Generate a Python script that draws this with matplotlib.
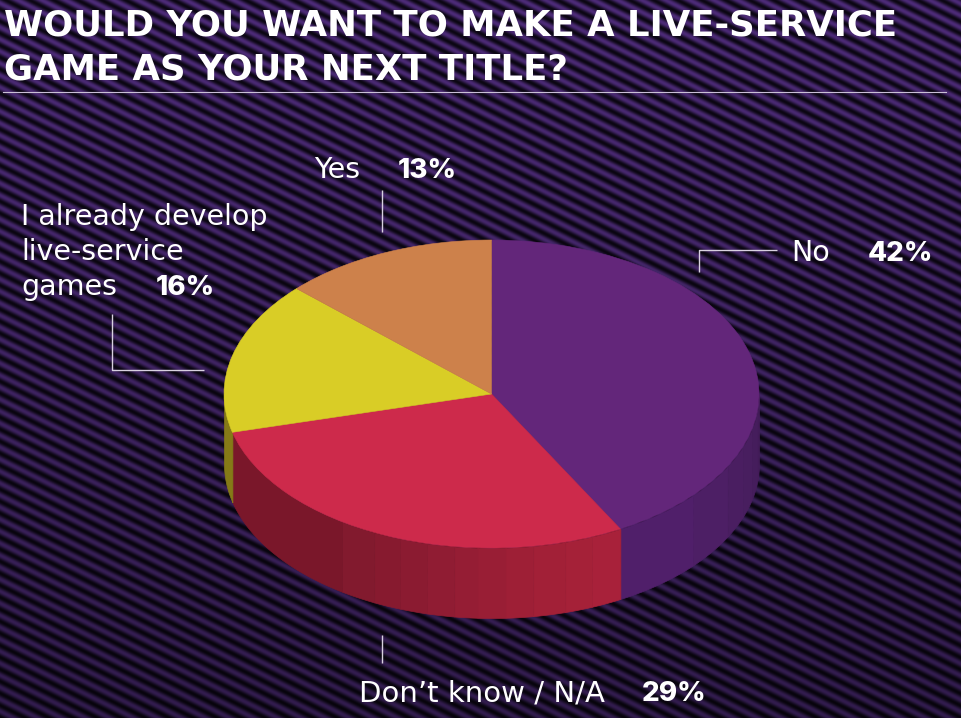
import numpy as np
from matplotlib import pyplot as plt
from matplotlib.colors import LinearSegmentedColormap

W, H = 962, 718

shares = [42, 29, 16, 13]
top_colors = ['#63267a', '#cd2a4b', '#d9cd26', '#cd814b']

title_lines = ['WOULD YOU WANT TO MAKE A LIVE-SERVICE', 'GAME AS YOUR NEXT TITLE?']

# wall shading per slice, with the clockwise angle where each shade stops
wall_shades = [
    ['#501f6a', '#4d1f65', '#4a1e61', '#481e5f', '#451d5c', '#431c59'],
    ['#a8213a', '#a52138', '#a22037', '#9e1f36', '#991e35', '#951d34',
     '#901c33', '#8b1b31', '#871a2f', '#821a2e', '#7a172a'],
    ['#857a17'],
]
wall_stops = [
    [131, 118, 110, 103, 96, 90],
    [158, 164, 171, 177, 183, 188, 194, 200, 206, 214, 255.6],
    [270],
]

plt.rcParams['font.family'] = ['DejaVu Sans']

fig = plt.figure(figsize=(W / 100, H / 100), dpi=100)

# background and annotations work in pixel coordinates
bg = fig.add_axes([0, 0, 1, 1])
bg.set_xlim(0, W)
bg.set_ylim(H, 0)
bg.axis('off')

yy, xx = np.mgrid[0:H, 0:W]
stripes = 0.5 + 0.5 * np.sin(2 * np.pi * (yy - 0.5 * xx) / 12)
fade = 1 - 0.36 * yy / H
stripe_map = LinearSegmentedColormap.from_list('stripes', ['#0c0714', '#4d2b78'])
rgb = stripe_map(stripes)[:, :, :3] * fade[:, :, None]
bg.imshow(rgb, extent=(0, W, H, 0), aspect='auto', interpolation='bilinear')

# pie: unit circle squashed by the axes box
cx, cy, rx, ry = 491.5, 394, 267.5, 154
depth_px = 70
depth = depth_px / ry
pie_ax = fig.add_axes([
    (cx - rx) / W,
    1 - (cy + ry + depth_px) / H,
    2 * rx / W,
    (2 * ry + depth_px) / H,
])
wedges, _ = pie_ax.pie(
    shares,
    colors=top_colors,
    startangle=90,
    counterclock=False,
    radius=1,
)
for wedge, color in zip(wedges, top_colors):
    wedge.set_edgecolor(color)
    wedge.set_linewidth(0.4)
pie_ax.set_aspect('auto')
pie_ax.set_xlim(-1, 1)
pie_ax.set_ylim(-1 - depth, 1)
pie_ax.patch.set_alpha(0)

# wall of the cylinder, only the part turned towards the viewer
ends = np.cumsum(shares) * 3.6
wall_begins = [ends[0], ends[0], ends[1]]
for begin, shades, stops in zip(wall_begins, wall_shades, wall_stops):
    for a, b, shade in zip([begin] + stops[:-1], stops, shades):
        theta = np.radians(np.linspace(a, b, 40))
        x = np.sin(theta)
        y = np.cos(theta)
        pie_ax.fill_between(x, y - depth, y, color=shade, linewidth=0.5, zorder=0)

# title
text_kw = dict(color='white', va='baseline')
title_font = dict(fontsize=25.6, fontweight='bold', family='DejaVu Sans')
bg.text(4, 35, title_lines[0], **title_font, **text_kw)
bg.text(4, 79, title_lines[1], **title_font, **text_kw)
bg.plot([3, 946], [91.5, 91.5], color='#c9bfd6', lw=0.8)

# labels
label_font = dict(fontsize=20.5, family='DejaVu Sans')
pct_font = dict(fontsize=20, fontweight='heavy', family='Inter')
bg.text(314, 178, 'Yes', **label_font, **text_kw)
bg.text(398, 178, '13%', **pct_font, **text_kw)
bg.text(21, 225, 'I already develop', **label_font, **text_kw)
bg.text(21, 260, 'live-service', **label_font, **text_kw)
bg.text(21, 295, 'games', **label_font, **text_kw)
bg.text(156, 295, '16%', **pct_font, **text_kw)
bg.text(791, 261, 'No', **label_font, **text_kw)
bg.text(868, 261, '42%', **pct_font, **text_kw)
bg.text(359, 701, 'Don\u2019t know / N/A', fontsize=21, family='DejaVu Sans', **text_kw)
bg.text(642, 701, '29%', **pct_font, **text_kw)

# leader lines
line_kw = dict(color='#d8d0e0', lw=1.0, solid_capstyle='butt')
bg.plot([382, 382], [190, 232], **line_kw)
bg.plot([112, 112, 204], [314, 369.5, 369.5], **line_kw)
bg.plot([699.5, 699.5, 777], [272, 249.5, 249.5], **line_kw)
bg.plot([382, 382], [635, 663], **line_kw)

fig.savefig('out.png', dpi=100)
